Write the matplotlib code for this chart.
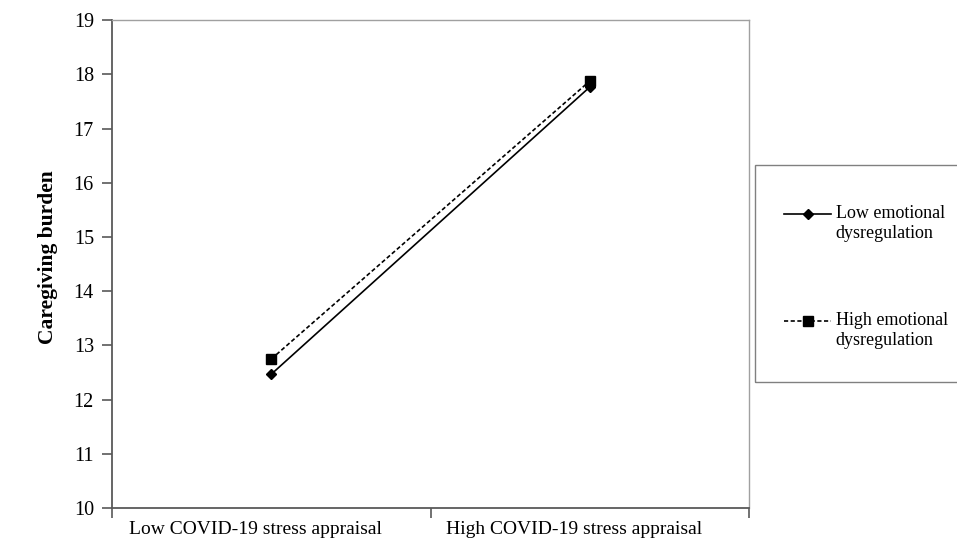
import numpy as np
import matplotlib.pyplot as plt
from matplotlib.patches import Rectangle
from matplotlib.legend_handler import HandlerLine2D
import matplotlib.transforms as mtransforms

plt.rcParams['font.family'] = ['Liberation Serif', 'DejaVu Serif']

categories = ['Low COVID-19 stress appraisal', 'High COVID-19 stress appraisal']
low_dysreg = [12.47, 17.77]
high_dysreg = [12.75, 17.88]
labels = ['Low emotional\ndysregulation', 'High emotional\ndysregulation']


class FirstLineHandler(HandlerLine2D):
    # put the legend sample next to the first line of a two-line label
    def create_artists(self, legend, orig_handle, xdescent, ydescent,
                       width, height, fontsize, trans):
        artists = super().create_artists(legend, orig_handle, xdescent, ydescent,
                                         width, height, fontsize, trans)
        for a in artists:
            a.set_ydata(np.asarray(a.get_ydata()) + 0.55 * fontsize)
        return artists


fig = plt.figure(figsize=(9.57, 5.44), dpi=100)
ax = fig.add_axes([0.117, 0.066, 0.666, 0.897])

x = [0.5, 1.5]
ax.plot(x, low_dysreg, color='black', lw=1.2, marker='D', markersize=5.5, label=labels[0])
ax.plot(x, high_dysreg, color='black', lw=1.2, ls=(0, (2.5, 1.5)), marker='s', markersize=7, label=labels[1])

ax.set_xlim(0, 2)
ax.set_ylim(10, 19)
ax.set_yticks(range(10, 20))
ax.set_xticks([0, 1, 2])
ax.set_xticklabels([])
ax.set_xticks(x, minor=True)
ax.set_xticklabels(categories, minor=True, fontsize=14)
ax.tick_params(axis='x', which='minor', length=0, pad=9)
ax.tick_params(axis='x', which='major', length=7, color='#595959', width=1.2)
ax.tick_params(axis='y', length=7, color='#595959', width=1.2, labelsize=14.5, pad=6)

# category labels sit a bit left of the points in the original
shift = mtransforms.ScaledTranslation(-16 / 100, 0, fig.dpi_scale_trans)
for lbl in ax.get_xticklabels(minor=True):
    lbl.set_transform(lbl.get_transform() + shift)

for s in ['top', 'right']:
    ax.spines[s].set_color('#a0a0a0')
    ax.spines[s].set_linewidth(1)
for s in ['left', 'bottom']:
    ax.spines[s].set_color('#595959')
    ax.spines[s].set_linewidth(1.3)

ax.set_ylabel('Caregiving burden', fontsize=15.5, fontweight='bold')
ax.yaxis.set_label_coords(-0.085, 0.514)

# legend box (runs off the right edge like the original)
fig.patches.append(Rectangle((755 / 957, 1 - 382 / 544), 0.25, 217 / 544,
                             transform=fig.transFigure, fill=False,
                             edgecolor='#808080', lw=1))
fig.legend(loc='upper left', bbox_to_anchor=(768 / 957, 1 - 189 / 544),
           frameon=False, fontsize=13, handlelength=2.6, handletextpad=0.25,
           labelspacing=3.9, handler_map={plt.Line2D: FirstLineHandler()})

fig.savefig('out.png', dpi=100)
